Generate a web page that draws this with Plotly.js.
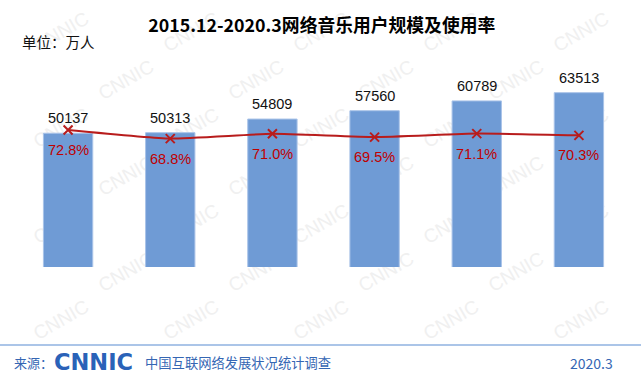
<!DOCTYPE html>
<html><head><meta charset="utf-8">
<script src="https://cdn.plot.ly/plotly-3.0.1.min.js"></script>
<style>html,body{margin:0;padding:0;background:#fff}#chart{width:641px;height:379px}</style>
</head><body><div id="chart"></div>
<script>
const categories = ['2015.12', '2016.12', '2017.12', '2018.12', '2019.6', '2020.3'];
const users = [50137, 50313, 54809, 57560, 60789, 63513];
const rates = [72.8, 68.8, 71.0, 69.5, 71.1, 70.3];
const userLabels = users.map(v => String(v));
const rateLabels = rates.map(v => v.toFixed(1) + '%');
const titleText = '2015.12-2020.3网络音乐用户规模及使用率';
const unitText = '单位：万人';
const sourceLabel = '来源：';
const logoText = 'CNNIC';
const sourceText = '中国互联网络发展状况统计调查';
const dateText = '2020.3';

const W = 641, H = 379, L = 17, R = 11, T = 73, B = 112;
const pw = W - L - R, ph = H - T - B;
const px = x => (x - L) / pw;
const py = y => (H - B - y) / ph;

const CJK = '"Noto Sans CJK SC", "Noto Sans", sans-serif';
const LAT = '"Liberation Sans", Arial, sans-serif';
const blue = '#3566b3';

const annotations = [];
categories.forEach((c, i) => {
  annotations.push({xref: 'x', yref: 'y', x: i, y: users[i], text: userLabels[i],
    showarrow: false, yanchor: 'middle', yshift: 15, font: {family: LAT, size: 14.5, color: '#111'}});
  annotations.push({xref: 'x', yref: 'y2', x: i, y: rates[i], text: rateLabels[i],
    showarrow: false, yanchor: 'middle', yshift: -20, font: {family: LAT, size: 14.5, color: '#c00000'}});
});
annotations.push({xref: 'paper', yref: 'paper', x: px(20), y: py(42), xanchor: 'left', yanchor: 'middle',
  text: unitText, showarrow: false, font: {family: CJK, size: 14.5, color: '#111'}});
annotations.push({xref: 'paper', yref: 'paper', x: px(12), y: py(362), xanchor: 'left', yanchor: 'middle',
  text: sourceLabel, showarrow: false, font: {family: CJK, size: 13, color: blue}});
annotations.push({xref: 'paper', yref: 'paper', x: px(52), y: py(362), xanchor: 'left', yanchor: 'middle',
  text: '<b>' + logoText + '</b>', showarrow: false, font: {family: '"DejaVu Sans", sans-serif', size: 22.5, color: '#2a62b8'}});
annotations.push({xref: 'paper', yref: 'paper', x: px(143), y: py(362), xanchor: 'left', yanchor: 'middle',
  text: sourceText, showarrow: false, font: {family: CJK, size: 13.3, color: blue}});
annotations.push({xref: 'paper', yref: 'paper', x: px(615), y: py(363), xanchor: 'right', yanchor: 'middle',
  text: dateText, showarrow: false, font: {family: CJK, size: 14, color: blue}});

const shapes = [];
// faint watermark pattern
for (let r = 0; r < 7; r++) {
  for (let c = 0; c < 5; c++) {
    const cx = 60 + c * 130 + (r % 2 ? 65 : 0);
    const cy = 30 + r * 48;
    if (cx > 600 || cy > 330) continue;
    shapes.push({type: 'rect', xref: 'paper', yref: 'paper', layer: 'below',
      x0: px(cx - 40), x1: px(cx + 40), y0: py(cy + 18), y1: py(cy - 18),
      line: {width: 0}, fillcolor: 'rgba(0,0,0,0)',
      label: {text: 'CNNIC', textangle: -30, textposition: 'middle center',
        font: {family: LAT, size: 19, color: '#f0f0f0'}}});
  }
}
shapes.push({type: 'line', xref: 'paper', yref: 'paper', x0: px(0), x1: px(641), y0: py(345), y1: py(345),
  line: {color: '#8fb2e0', width: 1.5}});

const data = [
  {type: 'bar', x: categories, y: users, yaxis: 'y',
    marker: {color: '#6f9bd5', line: {color: '#a9c3e8', width: 1}}, hoverinfo: 'skip'},
  {type: 'scatter', mode: 'lines+markers', x: categories, y: rates, yaxis: 'y2',
    line: {color: '#b81c1c', width: 2, shape: 'spline', smoothing: 0.4},
    marker: {symbol: 'x-thin', size: 9, line: {color: '#b81c1c', width: 2}}, hoverinfo: 'skip'}
];

const axHidden = {showticklabels: false, showgrid: false, zeroline: false, showline: false, ticks: ''};
const layout = {
  width: W, height: H,
  margin: {l: L, r: R, t: T, b: B},
  paper_bgcolor: '#ffffff', plot_bgcolor: 'rgba(0,0,0,0)',
  showlegend: false,
  bargap: 0.517,
  title: {text: '<b>' + titleText + '</b>', xref: 'container', yref: 'container', x: 0.502, y: 1 - 26 / H,
    xanchor: 'center', yanchor: 'middle', font: {family: CJK, size: 17.8, color: '#000'}},
  xaxis: Object.assign({type: 'category', range: [-0.5, 5.5], categoryorder: 'array', categoryarray: categories}, axHidden),
  yaxis: Object.assign({range: [6000, 70000]}, axHidden),
  yaxis2: Object.assign({range: [9.7, 99.0], overlaying: 'y', side: 'right'}, axHidden),
  annotations: annotations,
  shapes: shapes
};

Plotly.newPlot('chart', data, layout, {displayModeBar: false, staticPlot: true});
</script>
</body></html>
